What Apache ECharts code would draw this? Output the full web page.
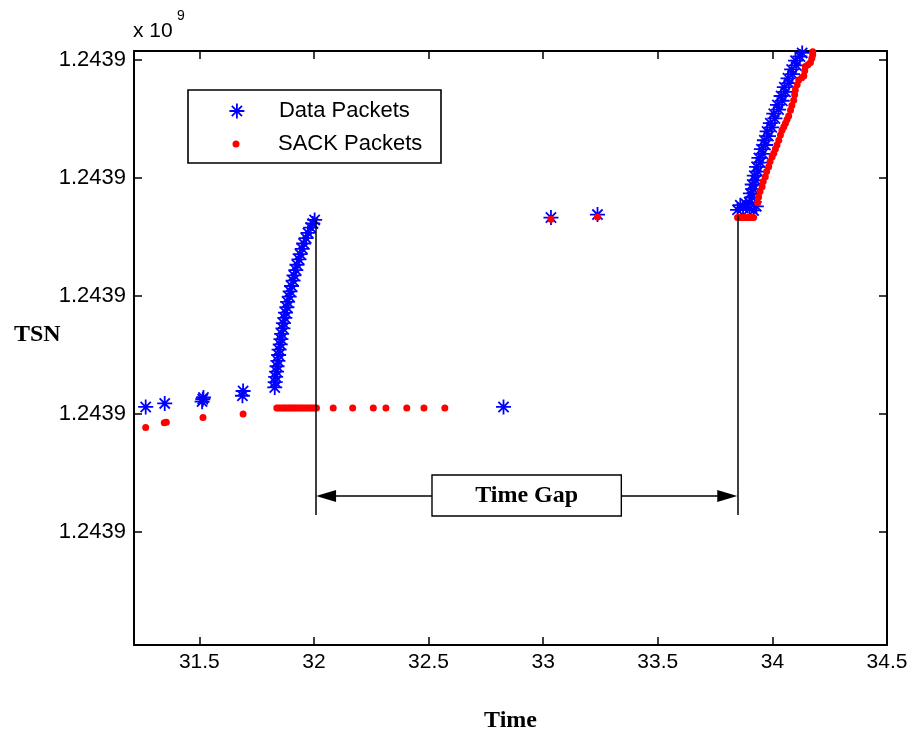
<!DOCTYPE html>
<html>
<head>
<meta charset="utf-8">
<script src="https://cdn.jsdelivr.net/npm/echarts@6/dist/echarts.min.js"></script>
<style>
  html, body { margin: 0; padding: 0; background: #fff; }
  #chart { width: 912px; height: 732px; }
</style>
</head>
<body>
<div id="chart"></div>
<script>
// TSN values are stored as offsets from this base sequence number
const TSN_BASE = 1243900000;

// Data packets: send time (s) and TSN offset
const dataTime = [
  31.266, 31.349, 31.512, 31.515, 31.518, 31.688, 31.691,
  31.829, 31.831, 31.833, 31.837, 31.839, 31.843, 31.846, 31.848, 31.853, 31.856,
  31.859, 31.865, 31.867, 31.873, 31.876, 31.882, 31.885, 31.892, 31.896, 31.902,
  31.909, 31.913, 31.921, 31.926, 31.935, 31.940, 31.949, 31.955, 31.966, 31.974,
  31.986, 31.995, 32.003,
  32.827, 33.034, 33.237,
  33.848, 33.860, 33.872, 33.885, 33.900, 33.918, 33.930,
  33.899, 33.911, 33.904, 33.918, 33.912, 33.928, 33.921, 33.937, 33.931, 33.948,
  33.941, 33.958, 33.952, 33.970, 33.965, 33.983, 33.977, 33.997, 33.991, 34.011,
  34.006, 34.027, 34.022, 34.043, 34.038, 34.057, 34.052, 34.072, 34.068, 34.088,
  34.084, 34.104, 34.101, 34.120, 34.130, 34.138
];
const dataTsn = [
  61.2, 61.8, 62.1, 62.5, 62.8, 63.1, 63.9,
  64.5, 65.4, 66.3, 67.2, 68.1, 69.0, 70.0, 70.9, 71.8, 72.7,
  73.6, 74.5, 75.4, 76.3, 77.2, 78.1, 79.0, 79.9, 80.8, 81.7,
  82.6, 83.5, 84.4, 85.3, 86.2, 87.1, 88.0, 88.9, 89.8, 90.7,
  91.6, 92.3, 92.9,
  61.2, 93.3, 93.8,
  94.6, 95.4, 94.9, 95.6, 94.8, 94.5, 95.2,
  95.9, 96.7, 97.4, 98.1, 98.9, 99.6, 100.4, 101.1, 101.9, 102.6,
  103.4, 104.1, 104.9, 105.6, 106.4, 107.1, 107.9, 108.6, 109.3, 110.1,
  110.9, 111.6, 112.4, 113.1, 113.9, 114.6, 115.4, 116.1, 116.9, 117.6,
  118.4, 119.1, 119.9, 120.6, 121.2, 121.6
];

// SACK packets: arrival time (s) and cumulative TSN ack offset
const sackTime = [
  31.266, 31.347, 31.356, 31.516, 31.691,
  31.838, 31.846, 31.855, 31.864, 31.871, 31.880, 31.889, 31.897, 31.905, 31.914,
  31.922, 31.931, 31.940, 31.948, 31.957, 31.966, 31.975, 31.984, 31.993, 32.002, 32.011,
  32.084, 32.169, 32.259, 32.314, 32.405, 32.480, 32.571,
  33.034, 33.237,
  33.848, 33.856, 33.864, 33.872, 33.880, 33.888, 33.896, 33.904, 33.912, 33.918,
  33.936, 33.940, 33.946, 33.955, 33.960, 33.969, 33.975, 33.984, 33.990, 33.999,
  34.006, 34.013, 34.020, 34.028, 34.035, 34.042, 34.050, 34.057, 34.064, 34.071,
  34.079, 34.085, 34.093, 34.097, 34.100, 34.108, 34.115, 34.128, 34.137, 34.141,
  34.144, 34.155, 34.166, 34.172, 34.176, 34.176
];
const sackTsn = [
  57.7, 58.5, 58.6, 59.4, 60.0,
  61.0, 61.0, 61.0, 61.0, 61.0, 61.0, 61.0, 61.0, 61.0, 61.0,
  61.0, 61.0, 61.0, 61.0, 61.0, 61.0, 61.0, 61.0, 61.0, 61.0, 61.0,
  61.0, 61.0, 61.0, 61.0, 61.0, 61.0, 61.0,
  93.0, 93.4,
  93.3, 93.3, 93.3, 93.3, 93.3, 93.3, 93.3, 93.3, 93.3, 93.3,
  95.8, 96.8, 97.7, 98.5, 99.4, 100.2, 101.1, 101.9, 102.8, 103.6,
  104.2, 104.9, 105.6, 106.4, 107.3, 108.1, 108.7, 109.3, 109.9, 110.5,
  111.5, 112.3, 113.2, 114.1, 114.9, 115.8, 116.6, 117.0, 117.3, 118.2,
  118.9, 119.2, 119.6, 120.3, 120.9, 121.4
];

// Axis ranges
const timeRange = [31.215, 34.5];
const tsnRange = [20.85, 121.53];

// Time gap annotation: gap start/end times, TSN levels of the bracket
const gapTimes = [32.009, 33.847];
const gapTopTsn = [92.9, 93.7];
const gapBottomTsn = 42.9;
const gapArrowTsn = 46.1;
const gapBoxTimes = [32.515, 33.341];
const gapBoxTsn = [42.71, 49.66];
const gapArrowInset = 0.044;

const STAR = 'path://M7.5,0L7.5,15M0,7.5L15,7.5M2.4,2.4L12.6,12.6M2.4,12.6L12.6,2.4';
const SANS = '"Liberation Sans", Arial, sans-serif';
const SERIF = '"Liberation Serif", "Times New Roman", serif';

const pair = (ts, vs) => ts.map((t, i) => [t, TSN_BASE + vs[i]]);
const at = (t, v) => ({ coord: [t, TSN_BASE + v] });

const chart = echarts.init(document.getElementById('chart'), null, { renderer: 'canvas' });

const axisBase = {
  axisLine: { show: true, onZero: false, lineStyle: { color: '#000', width: 2 } },
  axisTick: { show: true, inside: true, length: 8, lineStyle: { color: '#000', width: 1.5 } },
  splitLine: { show: false }
};

const option = {
  animation: false,
  backgroundColor: '#fff',
  grid: {
    left: 134, right: 25, top: 51, bottom: 87,
    containLabel: false, outerBoundsMode: 'none'
  },
  xAxis: [
    Object.assign({}, axisBase, {
      type: 'value', position: 'bottom',
      min: timeRange[0], max: timeRange[1], minInterval: 0.5, maxInterval: 0.5,
      axisLabel: { show: true, showMinLabel: false, color: '#000', fontSize: 21, fontFamily: SANS, margin: 7 },
      name: 'Time', nameLocation: 'middle', nameGap: 64,
      nameTextStyle: { color: '#000', fontFamily: SERIF, fontWeight: 'bold', fontSize: 24 }
    }),
    Object.assign({}, axisBase, {
      type: 'value', position: 'top',
      min: timeRange[0], max: timeRange[1], minInterval: 0.5, maxInterval: 0.5,
      axisLabel: { show: false }
    })
  ],
  yAxis: [
    Object.assign({}, axisBase, {
      type: 'value', position: 'left',
      min: TSN_BASE + tsnRange[0], max: TSN_BASE + tsnRange[1], minInterval: 20, maxInterval: 20,
      axisLabel: {
        show: true, showMinLabel: false, showMaxLabel: false,
        color: '#000', fontSize: 22, fontFamily: SANS, margin: 8,
        formatter: v => (v / 1e9).toFixed(4)
      }
    }),
    Object.assign({}, axisBase, {
      type: 'value', position: 'right',
      min: TSN_BASE + tsnRange[0], max: TSN_BASE + tsnRange[1], minInterval: 20, maxInterval: 20,
      axisLabel: { show: false }
    })
  ],
  legend: [
    {
      data: ['Data Packets'], left: 228.5, top: 100, padding: 0,
      itemWidth: 74, itemHeight: 15, selectedMode: false,
      itemStyle: { borderWidth: 1.8, borderColor: '#0000ff' },
      textStyle: { color: '#000', fontSize: 22, fontFamily: SANS }
    },
    {
      data: ['SACK Packets'], left: 232.5, top: 133, padding: 0,
      itemWidth: 74, itemHeight: 7, selectedMode: false,
      itemStyle: { borderWidth: 0 },
      textStyle: { color: '#000', fontSize: 22, fontFamily: SANS }
    }
  ],
  graphic: [
    { type: 'rect', z: 0, shape: { x: 188, y: 90, width: 253, height: 73 },
      style: { fill: '#fff', stroke: '#000', lineWidth: 1.6 } },
    { type: 'text', left: 133, top: 21,
      style: { text: 'x 10', fill: '#000', font: '21px ' + SANS } },
    { type: 'text', left: 177, top: 9,
      style: { text: '9', fill: '#000', font: '14px ' + SANS } },
    { type: 'text', left: 14, top: 323,
      style: { text: 'TSN', fill: '#000', font: 'bold 24px ' + SERIF } }
  ],
  series: [
    {
      name: 'Data Packets', type: 'scatter',
      xAxisIndex: 0, yAxisIndex: 0,
      symbol: STAR, symbolSize: 15,
      itemStyle: { color: '#0000ff', borderColor: '#0000ff', borderWidth: 1.8, opacity: 1 },
      data: pair(dataTime, dataTsn),
      z: 2
    },
    {
      name: 'SACK Packets', type: 'scatter',
      xAxisIndex: 0, yAxisIndex: 0,
      symbol: 'circle', symbolSize: 7,
      itemStyle: { color: '#ff0000', opacity: 1 },
      data: pair(sackTime, sackTsn),
      z: 3
    },
    {
      name: 'gap', type: 'scatter',
      xAxisIndex: 0, yAxisIndex: 0,
      data: [], z: 4,
      markLine: {
        silent: true, animation: false,
        symbol: ['none', 'none'],
        label: { show: false },
        lineStyle: { color: '#000', width: 1.5, type: 'solid' },
        data: [
          [at(gapTimes[0], gapTopTsn[0]), at(gapTimes[0], gapBottomTsn)],
          [at(gapTimes[1], gapTopTsn[1]), at(gapTimes[1], gapBottomTsn)],
          [Object.assign(at(gapBoxTimes[0], gapArrowTsn), { symbol: 'none' }),
           Object.assign(at(gapTimes[0] + gapArrowInset, gapArrowTsn), { symbol: 'triangle', symbolSize: [12, 20] })],
          [Object.assign(at(gapBoxTimes[1], gapArrowTsn), { symbol: 'none' }),
           Object.assign(at(gapTimes[1] - gapArrowInset, gapArrowTsn), { symbol: 'triangle', symbolSize: [12, 20] })]
        ]
      },
      markArea: {
        silent: true, animation: false,
        itemStyle: { color: '#fff', opacity: 1, borderColor: '#000', borderWidth: 1.4 },
        label: {
          show: true, position: 'inside', formatter: 'Time Gap',
          color: '#000', fontFamily: SERIF, fontWeight: 'bold', fontSize: 24
        },
        data: [[at(gapBoxTimes[0], gapBoxTsn[1]), at(gapBoxTimes[1], gapBoxTsn[0])]]
      }
    }
  ]
};

chart.setOption(option);
</script>
</body>
</html>
